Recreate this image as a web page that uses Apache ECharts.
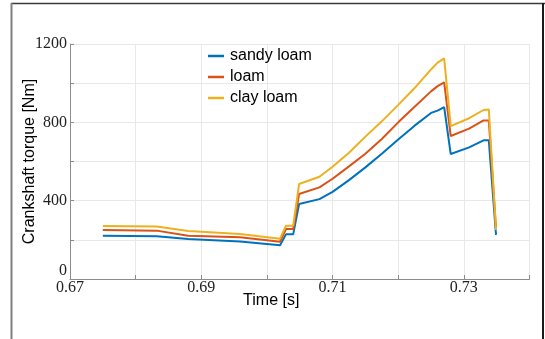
<!DOCTYPE html>
<html>
<head>
<meta charset="utf-8">
<script src="https://cdn.jsdelivr.net/npm/echarts@6/dist/echarts.min.js"></script>
<style>
html,body{margin:0;padding:0;background:#fff;}
#chart{width:545px;height:339px;}
</style>
</head>
<body>
<div id="chart"></div>
<script>
var times = [0.675, 0.6832, 0.688, 0.6959, 0.702, 0.7029, 0.704, 0.7049, 0.708, 0.710, 0.7125, 0.715, 0.7175, 0.720, 0.7225, 0.725, 0.726, 0.727, 0.728, 0.7308, 0.733, 0.7338, 0.7349];
var sandyLoam = [221, 218, 204, 191, 172, 228, 228, 383, 408, 445, 505, 570, 640, 712, 783, 848, 860, 878, 638, 672, 708, 708, 225];
var loam      = [250, 247, 221, 213, 190, 255, 255, 434, 468, 512, 575, 640, 715, 800, 880, 958, 985, 1004, 730, 768, 810, 810, 258];
var clayLoam  = [271, 268, 245, 230, 206, 272, 272, 485, 522, 573, 645, 727, 805, 889, 975, 1070, 1105, 1127, 781, 821, 863, 865, 250];
var seriesNames = ['sandy loam', 'loam', 'clay loam'];
var seriesColors = ['#0072BD', '#D95319', '#EDB120'];
var xTicks = [0.67, 0.69, 0.71, 0.73];
var yTicks = [0, 400, 800, 1200];

function pairs(vals) { return times.map(function (t, i) { return [t, vals[i]]; }); }
var allVals = [sandyLoam, loam, clayLoam];

var chart = echarts.init(document.getElementById('chart'), null, {renderer: 'canvas'});
var serifFont = '"Liberation Serif", "Times New Roman", serif';
var sansFont = '"Liberation Sans", Arial, sans-serif';
chart.setOption({
  animation: false,
  backgroundColor: '#fff',
  grid: {left: 70, right: 15.5, top: 44, bottom: 60, containLabel: false},
  legend: {
    orient: 'vertical', left: 208, top: 48, icon: 'rect', itemWidth: 16, itemHeight: 2.5,
    itemGap: 5, padding: 0,
    textStyle: {fontFamily: sansFont, fontSize: 16, color: '#000', lineHeight: 16, padding: [0,0,0,1]},
    data: seriesNames
  },
  xAxis: {
    type: 'value', min: 0.67, max: 0.74, interval: 0.01,
    name: 'Time [s]', nameLocation: 'middle', nameGap: 14, nameMoveOverlap: false,
    nameTextStyle: {fontFamily: sansFont, fontSize: 16, color: '#000', padding: [0, 57, 0, 0]},
    axisLine: {show: true, lineStyle: {color: '#8c8c8c', width: 1}},
    axisTick: {show: true, inside: true, length: 4, lineStyle: {color: '#8c8c8c'}},
    axisLabel: {
      fontFamily: serifFont, fontSize: 16, color: '#222', margin: 1,
      formatter: function (v) {
        for (var i = 0; i < xTicks.length; i++) { if (Math.abs(v - xTicks[i]) < 1e-6) return xTicks[i].toFixed(2); }
        return '';
      }
    },
    splitLine: {show: true, lineStyle: {color: '#e8e8e8', width: 1}}
  },
  yAxis: {
    type: 'value', min: 0, max: 1200, interval: 200,
    name: 'Crankshaft torque [Nm]', nameLocation: 'middle', nameGap: 32, nameMoveOverlap: false,
    nameTextStyle: {fontFamily: sansFont, fontSize: 16, color: '#000'},
    axisLine: {show: true, lineStyle: {color: '#8c8c8c', width: 1}},
    axisTick: {show: true, inside: true, length: 4, lineStyle: {color: '#8c8c8c'}},
    axisLabel: {
      fontFamily: serifFont, fontSize: 16, color: '#222', margin: 3,
      verticalAlignMinLabel: 'bottom',
      formatter: function (v) { return yTicks.indexOf(Math.round(v)) >= 0 ? String(Math.round(v)) : ''; }
    },
    splitLine: {show: true, lineStyle: {color: '#e8e8e8', width: 1}}
  },
  series: seriesNames.map(function (n, i) {
    return {
      name: n, type: 'line', data: pairs(allVals[i]), showSymbol: false, symbol: 'none',
      lineStyle: {width: 2, color: seriesColors[i]}, itemStyle: {color: seriesColors[i]}
    };
  }),
  graphic: [
    {type: 'line', shape: {x1: 11, y1: 3.5, x2: 545, y2: 3.5}, style: {stroke: '#3a3a3a', lineWidth: 1.5}, silent: true},
    {type: 'line', shape: {x1: 11.5, y1: 3, x2: 11.5, y2: 339}, style: {stroke: '#808080', lineWidth: 2}, silent: true},
    {type: 'line', shape: {x1: 543, y1: 3, x2: 543, y2: 339}, style: {stroke: '#1a1a1a', lineWidth: 2}, silent: true}
  ]
});
</script>
</body>
</html>
